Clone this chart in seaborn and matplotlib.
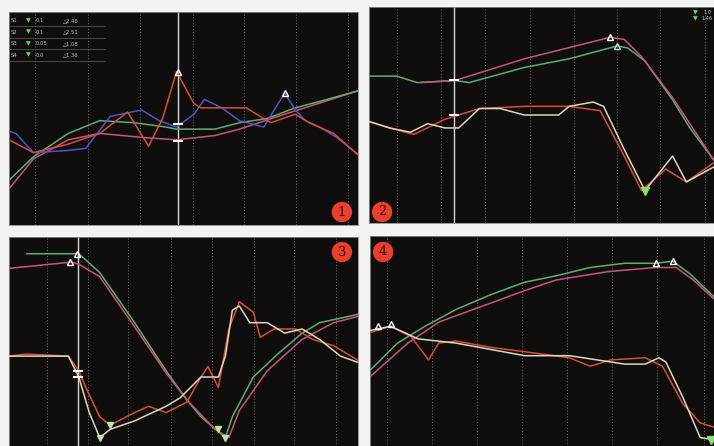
import pandas as pd
import seaborn as sns
import matplotlib.pyplot as plt

# datos de las trazas (x = % del barrido, y = nivel relativo 0-100)

# panel 1
p1_green_x = [0, 7, 17, 26, 36, 45, 48, 59, 66, 74, 82, 89, 100]
p1_green_y = [21, 32, 43, 49, 48, 46, 45, 45, 48, 50, 55, 58, 63]
p1_mag_x = [0, 7, 17, 26, 39, 48, 59, 66, 79, 100]
p1_mag_y = [17, 31, 40, 43, 41, 40, 42, 45, 52, 63]
p1_blue_x = [0, 2, 7, 17, 22, 29, 38, 43, 48, 53, 56, 61, 66, 73, 76, 79, 82, 85, 89, 94, 100]
p1_blue_y = [44, 43, 34, 35, 36, 51, 54, 49, 46, 52, 59, 55, 49, 46, 54, 62, 54, 49, 46, 41, 33]
p1_red_x = [0, 7, 17, 26, 34, 40, 44, 48, 53, 55, 68, 75, 82, 86, 93, 100]
p1_red_y = [40, 34, 38, 43, 53, 37, 50, 72, 57, 55, 55, 48, 52, 48, 43, 33]

# panel 2
p2_mag_x = [15, 25, 45, 70, 74, 79, 88, 93, 100]
p2_mag_y = [65, 66, 76, 86, 85, 77, 58, 46, 29]
p2_green_x = [0, 8, 14, 25, 29, 45, 58, 72, 75, 80, 88, 93, 100]
p2_green_y = [68, 68, 65, 66, 65, 72, 76, 82, 81, 75, 57, 44, 29]
p2_red_x = [0, 6, 13, 22, 32, 45, 58, 67, 73, 79, 86, 92, 100]
p2_red_y = [47, 44, 41, 48, 53, 54, 54, 52, 34, 15, 25, 19, 28]
p2_white_x = [0, 6, 12, 17, 22, 26, 32, 38, 45, 55, 58, 65, 68, 74, 80, 88, 92, 100]
p2_white_y = [47, 44, 42, 46, 44, 44, 53, 53, 50, 50, 54, 56, 54, 34, 15, 31, 19, 26]

# panel 3
p3_green_x = [5, 20, 22, 26, 36, 45, 51, 55, 62, 64, 70, 77, 84, 89, 100]
p3_green_y = [92, 92, 89, 83, 59, 36, 22, 14, 4, 14, 33, 44, 54, 59, 63]
p3_mag_x = [0, 18, 20, 26, 36, 45, 51, 59, 63, 66, 74, 84, 93, 100]
p3_mag_y = [85, 88, 87, 81, 57, 35, 22, 8, 4, 17, 36, 51, 59, 62]
p3_red_x = [0, 5, 17, 20, 22, 26, 29, 36, 40, 45, 51, 55, 57, 60, 63, 66, 70, 72, 76, 82, 87, 93, 100]
p3_red_y = [43, 44, 43, 36, 28, 14, 10, 16, 19, 16, 21, 33, 38, 28, 56, 69, 64, 52, 56, 56, 51, 48, 41]
p3_white_x = [0, 17, 20, 23, 26, 29, 36, 45, 49, 55, 60, 62, 64, 66, 69, 74, 79, 84, 89, 95, 100]
p3_white_y = [43, 43, 33, 16, 4, 8, 12, 19, 23, 33, 33, 43, 65, 67, 59, 59, 54, 56, 51, 43, 40]

# panel 4
p4_green_x = [0, 8, 16, 25, 35, 45, 54, 64, 74, 83, 88, 93, 100]
p4_green_y = [36, 49, 57, 65, 72, 78, 81, 85, 87, 87, 88, 82, 71]
p4_mag_x = [0, 11, 20, 35, 45, 54, 69, 83, 89, 94, 100]
p4_mag_y = [33, 49, 59, 68, 74, 79, 83, 85, 85, 79, 70]
p4_red_x = [0, 6, 12, 17, 20, 25, 35, 49, 58, 64, 70, 80, 85, 91, 96, 100]
p4_red_y = [54, 57, 52, 41, 49, 50, 47, 44, 42, 38, 41, 42, 38, 20, 11, 9]
p4_white_x = [0, 6, 14, 25, 45, 58, 66, 74, 80, 84, 86, 91, 96, 100]
p4_white_y = [55, 57, 51, 49, 43, 43, 41, 39, 39, 42, 40, 23, 4, 3]

# rejilla y cursores
grid_1 = [7.5, 22.7, 37.6, 52.6, 67.2, 82.2, 97.1]
grid_2 = [8.1, 20.9, 33.6, 46.7, 59.4, 71.9, 84.3, 97.4]
grid_3 = [10.9, 22.7, 34.2, 46.3, 58.3, 70.1, 81.6, 93.7]
grid_4 = [4.9, 18.0, 31.1, 44.2, 57.3, 70.3, 83.4, 97.1]
cursor_1 = 48.3
cursor_2 = 24.6
cursor_3 = 19.8

legend_rows = ["S1", "S2", "S3", "S4"]
legend_mid = ["0.1", "0.1", "0.05", "0.0"]
legend_right = ["2.46", "2.51", "1.08", "1.36"]

GREEN = "#5fae70"
MAG = "#c4587a"
RED = "#d2503c"
BLUE = "#5454c4"
WHITE = "#dcd8c0"
BG = "#100d0d"

sns.set_style("dark")
fig = plt.figure(figsize=(7.14, 4.46), dpi=100)
fig.patch.set_facecolor("#f3f3f1")

posiciones = [
    [0.0126, 0.4955, 0.4888, 0.4776],
    [0.5168, 0.5000, 0.4832, 0.4843],
    [0.0126, 0.0000, 0.4888, 0.4686],
    [0.5182, 0.0000, 0.4818, 0.4709],
]
axes = [fig.add_axes(p) for p in posiciones]


def preparar_panel(ax, grid, cursor=None):
    ax.set_facecolor(BG)
    ax.set_xlim(0, 100)
    ax.set_ylim(0, 100)
    ax.set_xticks([])
    ax.set_yticks([])
    for s in ax.spines.values():
        s.set_color("#8a8a88")
        s.set_linewidth(0.6)
    for g in grid:
        ax.axvline(g, color="#7a6c6a", lw=0.7, ls=(0, (1, 2)), zorder=1)
    if cursor is not None:
        ax.axvline(cursor, color="#d8d8d8", lw=1.0, zorder=2)


def traza(ax, x, y, color, z=3):
    sns.lineplot(x=x, y=y, ax=ax, color=color, lw=1.1, estimator=None,
                 sort=False, zorder=z)


def numero(ax, txt, fx, fy):
    ax.text(fx, fy, txt, transform=ax.transAxes, ha="center", va="center",
            fontsize=9.5, family="DejaVu Serif", color="#3a0a08", zorder=10,
            bbox=dict(boxstyle="circle,pad=0.28", fc="#e8402c", ec="none"))


# panel 1
ax = axes[0]
preparar_panel(ax, grid_1, cursor_1)
traza(ax, p1_mag_x, p1_mag_y, MAG)
traza(ax, p1_green_x, p1_green_y, GREEN)
traza(ax, p1_blue_x, p1_blue_y, BLUE)
traza(ax, p1_red_x, p1_red_y, RED)
ax.plot([cursor_1], [72], marker="^", ms=5, mfc="none", mec="white", zorder=6)
ax.plot([79], [62], marker="^", ms=5, mfc="none", mec="white", zorder=6)
ax.plot([cursor_1, cursor_1], [47.6, 39.6], ls="none", marker="_", ms=7,
        mec="white", mew=1.5, zorder=6)
for i, (a, b, c) in enumerate(zip(legend_rows, legend_mid, legend_right)):
    yy = 0.96 - i * 0.054
    ax.text(0.005, yy, a, transform=ax.transAxes, fontsize=3.8, color="#c8c4b8", va="center")
    ax.text(0.05, yy, "▼", transform=ax.transAxes, fontsize=4.5, color="#6ad060", va="center")
    ax.text(0.075, yy, b, transform=ax.transAxes, fontsize=3.8, color="#c8c4b8", va="center")
    ax.text(0.155, yy, "△" + c, transform=ax.transAxes, fontsize=3.8, color="#c8c4b8", va="center")
    ax.plot([0, 0.275], [yy - 0.027, yy - 0.027], transform=ax.transAxes,
            color="#6a6060", lw=0.5, zorder=5)
numero(ax, "1", 0.954, 0.061)

# panel 2
ax = axes[1]
preparar_panel(ax, grid_2, cursor_2)
traza(ax, p2_green_x, p2_green_y, GREEN)
traza(ax, p2_mag_x, p2_mag_y, MAG)
traza(ax, p2_red_x, p2_red_y, RED)
traza(ax, p2_white_x, p2_white_y, WHITE)
ax.plot([70], [86], marker="^", ms=5, mfc="none", mec="white", zorder=6)
ax.plot([72], [82], marker="^", ms=5, mfc="none", mec="#c8e0c8", zorder=6)
ax.plot([80], [15], marker="v", ms=6, color="#8ae070", zorder=6)
ax.plot([cursor_2, cursor_2], [66, 50], ls="none", marker="_", ms=7,
        mec="white", mew=1.5, zorder=6)
ax.text(0.94, 0.975, "▼", transform=ax.transAxes, fontsize=4.5, color="#6ad060", va="center")
ax.text(0.97, 0.975, "1.0", transform=ax.transAxes, fontsize=3.6, color="#c8c4b8", va="center")
ax.text(0.94, 0.945, "▼", transform=ax.transAxes, fontsize=4.5, color="#6ad060", va="center")
ax.text(0.965, 0.945, "1.46", transform=ax.transAxes, fontsize=3.6, color="#c8c4b8", va="center")
numero(ax, "2", 0.038, 0.051)

# panel 3
ax = axes[2]
preparar_panel(ax, grid_3, cursor_3)
traza(ax, p3_green_x, p3_green_y, GREEN)
traza(ax, p3_mag_x, p3_mag_y, MAG)
traza(ax, p3_red_x, p3_red_y, RED)
traza(ax, p3_white_x, p3_white_y, WHITE)
ax.plot([19.5], [92], marker="^", ms=5, mfc="none", mec="white", zorder=6)
ax.plot([17.5], [88], marker="^", ms=5, mfc="none", mec="white", zorder=6)
ax.plot([cursor_3, cursor_3], [36, 33], ls="none", marker="_", ms=7,
        mec="white", mew=1.5, zorder=6)
for xx, yy in [(26, 4), (29, 10), (62, 4), (60, 8)]:
    ax.plot([xx], [yy], marker="v", ms=5, color="#b8e8a8", zorder=6)
numero(ax, "3", 0.954, 0.928)

# panel 4
ax = axes[3]
preparar_panel(ax, grid_4)
traza(ax, p4_green_x, p4_green_y, GREEN)
traza(ax, p4_mag_x, p4_mag_y, MAG)
traza(ax, p4_red_x, p4_red_y, RED)
traza(ax, p4_white_x, p4_white_y, WHITE)
ax.plot([83], [87], marker="^", ms=5, mfc="none", mec="white", zorder=6)
ax.plot([88], [88], marker="^", ms=5, mfc="none", mec="white", zorder=6)
ax.plot([2.3], [57], marker="^", ms=5, mfc="none", mec="white", zorder=6)
ax.plot([6], [58], marker="^", ms=5, mfc="none", mec="white", zorder=6)
ax.plot([99], [3], marker="v", ms=6, color="#8ae070", zorder=6)
numero(ax, "4", 0.038, 0.924)

plt.savefig("out.png", dpi=100, facecolor=fig.get_facecolor())
